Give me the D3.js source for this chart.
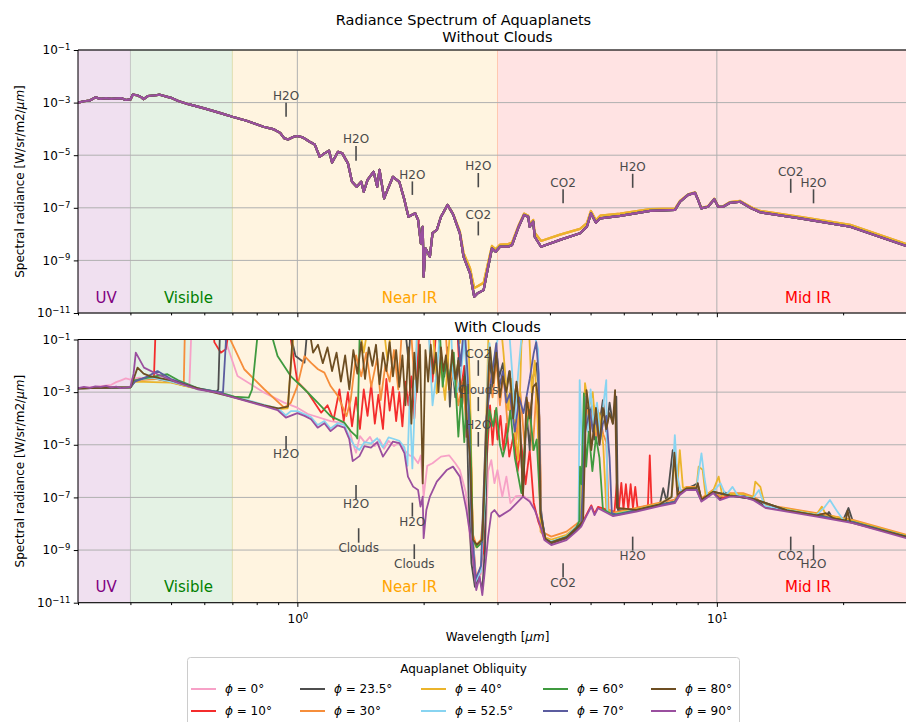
<!DOCTYPE html>
<html>
<head>
<meta charset="utf-8">
<script src="https://cdn.jsdelivr.net/npm/d3@7"></script>
<style>
  body { margin: 0; background: #fff; }
  svg { display: block; font-family: "DejaVu Sans", sans-serif; }
</style>
</head>
<body>
<svg id="chart" width="906" height="722"></svg>
<script>
// ---------------- data ----------------
// Obliquity of each simulated aquaplanet (degrees)
const obliquities = ["0", "10", "23.5", "30", "40", "52.5", "60", "70", "80", "90"];

// Spectral bands [start, end] in micrometres
const bandNames = ["UV", "Visible", "Near IR", "Mid IR"];
const bandEdges = [[0.3, 0.4], [0.4, 0.7], [0.7, 3], [3, 30]];

// Axis ticks
const yTickExponents = [-1, -3, -5, -7, -9, -11];
const xMajorTicks = [1, 10];
const xMinorTicks = [0.3, 0.4, 0.5, 0.6, 0.7, 0.8, 0.9, 2, 3, 4, 5, 6, 7, 8, 9, 20, 30];

// Clear-sky spectra: [wavelength (um), log10 radiance (W/sr/m2/um)]
const clearCold = [[0.30,-3.00],[0.31,-2.95],[0.32,-2.92],[0.33,-2.80],[0.34,-2.86],[0.35,-2.83],[0.36,-2.86],[0.37,-2.84],[0.38,-2.83],[0.39,-2.90],[0.40,-2.88],[0.405,-2.70],[0.415,-2.72],[0.425,-2.80],[0.43,-2.87],[0.44,-2.75],[0.46,-2.72],[0.47,-2.70],[0.50,-2.82],[0.52,-2.94],[0.55,-3.06],[0.60,-3.22],[0.65,-3.38],[0.70,-3.54],[0.76,-3.70],[0.83,-3.92],[0.88,-4.02],[0.91,-4.15],[0.93,-4.35],[0.95,-4.40],[0.98,-4.30],[1.00,-4.27],[1.03,-4.32],[1.07,-4.49],[1.10,-4.59],[1.13,-5.06],[1.16,-4.93],[1.19,-4.83],[1.21,-5.28],[1.25,-4.87],[1.28,-4.93],[1.32,-5.31],[1.35,-6.01],[1.385,-6.20],[1.42,-6.01],[1.44,-6.39],[1.47,-5.94],[1.52,-5.63],[1.55,-6.20],[1.57,-5.56],[1.61,-6.64],[1.64,-6.32],[1.69,-5.82],[1.75,-6.01],[1.80,-6.70],[1.84,-7.34],[1.91,-7.21],[1.94,-7.46],[1.97,-8.35],[1.99,-7.72],[2.00,-9.62],[2.02,-8.54],[2.07,-8.86],[2.10,-7.96],[2.15,-7.84],[2.20,-7.34],[2.28,-6.89],[2.35,-7.24],[2.44,-7.97],[2.49,-8.86],[2.58,-9.49],[2.64,-10.38],[2.69,-10.25],[2.78,-10.13],[2.83,-9.49],[2.91,-8.54],[2.97,-8.67],[3.04,-8.48],[3.18,-8.48],[3.25,-8.41],[3.37,-7.72],[3.47,-7.27],[3.55,-7.34],[3.58,-7.72],[3.65,-7.53],[3.68,-8.10],[3.81,-8.48],[4.23,-8.22],[4.72,-7.97],[4.90,-7.72],[5.01,-7.21],[5.15,-7.57],[5.27,-7.40],[5.88,-7.31],[6.93,-7.12],[7.95,-7.08],[8.17,-6.77],[8.54,-6.51],[8.87,-6.43],[9.02,-6.70],[9.18,-7.02],[9.53,-6.96],[9.86,-6.67],[10.07,-6.96],[10.35,-6.96],[10.75,-6.81],[11.37,-6.77],[12.08,-7.02],[12.68,-7.17],[15.8,-7.40],[20.8,-7.72],[28.3,-8.45],[30.0,-8.55]];
const clearWarm = [[0.30,-3.00],[0.31,-2.95],[0.32,-2.92],[0.33,-2.80],[0.34,-2.86],[0.35,-2.83],[0.36,-2.86],[0.37,-2.84],[0.38,-2.83],[0.39,-2.90],[0.40,-2.88],[0.405,-2.70],[0.415,-2.72],[0.425,-2.80],[0.43,-2.87],[0.44,-2.75],[0.46,-2.72],[0.47,-2.70],[0.50,-2.82],[0.52,-2.94],[0.55,-3.06],[0.60,-3.22],[0.65,-3.38],[0.70,-3.54],[0.76,-3.70],[0.83,-3.92],[0.88,-4.02],[0.91,-4.15],[0.93,-4.35],[0.95,-4.40],[0.98,-4.30],[1.00,-4.27],[1.03,-4.32],[1.07,-4.49],[1.10,-4.59],[1.13,-5.06],[1.16,-4.93],[1.19,-4.83],[1.21,-5.28],[1.25,-4.87],[1.28,-4.93],[1.32,-5.31],[1.35,-6.01],[1.385,-6.20],[1.42,-6.01],[1.44,-6.39],[1.47,-5.94],[1.52,-5.63],[1.55,-6.20],[1.57,-5.56],[1.61,-6.64],[1.64,-6.32],[1.69,-5.82],[1.75,-6.01],[1.80,-6.70],[1.84,-7.34],[1.91,-7.21],[1.94,-7.46],[1.97,-8.35],[1.99,-7.72],[2.00,-9.62],[2.02,-8.54],[2.07,-8.86],[2.10,-7.96],[2.15,-7.84],[2.20,-7.34],[2.28,-6.89],[2.35,-7.22],[2.44,-7.90],[2.49,-8.72],[2.58,-9.30],[2.64,-10.05],[2.69,-9.98],[2.78,-9.85],[2.83,-9.30],[2.91,-8.45],[2.97,-8.58],[3.04,-8.40],[3.18,-8.38],[3.25,-8.32],[3.37,-7.66],[3.47,-7.22],[3.55,-7.30],[3.58,-7.63],[3.65,-7.46],[3.68,-7.95],[3.81,-8.26],[4.23,-8.02],[4.72,-7.80],[4.90,-7.58],[5.01,-7.12],[5.15,-7.47],[5.27,-7.30],[5.88,-7.22],[6.93,-7.05],[7.95,-7.03],[8.17,-6.74],[8.54,-6.49],[8.87,-6.41],[9.02,-6.68],[9.18,-7.00],[9.53,-6.94],[9.86,-6.65],[10.07,-6.94],[10.35,-6.94],[10.75,-6.78],[11.37,-6.74],[12.08,-6.98],[12.68,-7.12],[15.8,-7.34],[20.8,-7.65],[28.3,-8.38],[30.0,-8.48]];
// which clear-sky spectrum each obliquity follows
const clearProfile = ["cold", "cold", "cold", "warm", "warm", "cold", "cold", "cold", "cold", "cold"];

// Cloudy spectra: [wavelength (um), log10 radiance]; values above 1e-1 leave the frame
const cloudy0 = [[0.30,-2.85],[0.33,-2.80],[0.36,-2.72],[0.37,-2.62],[0.38,-2.55],[0.39,-2.48],[0.40,-2.52],[0.42,-2.45],[0.46,-2.50],[0.50,-2.62],[0.54,-2.75],[0.553,-2.72],[0.56,-0.3],[0.65,-0.3],[0.72,-2.39],[0.834,-3.02],[0.93,-3.40],[1.00,-3.59],[1.06,-3.83],[1.20,-4.10],[1.29,-4.18],[1.33,-4.40],[1.355,-4.92],[1.38,-5.30],[1.41,-4.67],[1.45,-4.92],[1.49,-4.70],[1.53,-5.05],[1.57,-4.80],[1.61,-5.15],[1.65,-4.85],[1.70,-5.05],[1.75,-4.90],[1.80,-5.20],[1.85,-5.40],[1.89,-5.45],[1.94,-5.70],[1.97,-5.40],[2.00,-6.97],[2.04,-5.80],[2.10,-5.70],[2.20,-5.45],[2.30,-5.40],[2.38,-5.70],[2.44,-5.96],[2.52,-6.8],[2.58,-8.6],[2.66,-10.3],[2.74,-9.9],[2.80,-9.2],[2.85,-6.0],[2.90,-5.58],[2.95,-6.46],[3.00,-5.96],[3.08,-6.97],[3.15,-6.21],[3.22,-7.22],[3.32,-6.95],[3.45,-6.93],[3.58,-7.12],[3.68,-7.44],[3.78,-7.94],[3.88,-8.58],[4.03,-8.77],[4.38,-8.58],[4.62,-8.26],[4.75,-8.07],[4.88,-7.69],[5.02,-7.31],[5.11,-7.63],[5.21,-7.37],[5.66,-7.67],[6.43,-7.50],[7.31,-7.29],[7.94,-7.18],[8.16,-6.87],[8.46,-6.68],[8.94,-6.68],[9.19,-7.12],[9.80,-6.80],[10.74,-6.93],[12.2,-7.06],[14.7,-7.50],[17.3,-7.69],[21.1,-7.94],[30.0,-8.61]];
const cloudy10 = [[0.30,-2.86],[0.36,-2.82],[0.40,-2.80],[0.41,-2.55],[0.44,-2.45],[0.455,-2.50],[0.46,-0.3],[0.63,-0.3],[0.634,-1.1],[0.657,-1.50],[0.675,-1.37],[0.694,-0.3],[0.95,-0.3],[1.00,-2.6],[1.06,-3.02],[1.14,-3.78],[1.18,-3.5],[1.22,-4.05],[1.26,-2.9],[1.29,-4.1],[1.32,-3.0],[1.35,-4.3],[1.38,-3.2],[1.41,-4.4],[1.44,-2.9],[1.47,-3.9],[1.50,-2.7],[1.53,-4.2],[1.56,-3.1],[1.60,-4.4],[1.63,-2.5],[1.66,-3.7],[1.69,-2.8],[1.72,-4.1],[1.75,-3.0],[1.78,-4.3],[1.81,-2.6],[1.84,-3.5],[1.87,-2.4],[1.90,-4.0],[1.93,-2.2],[1.96,-0.3],[2.05,-0.3],[2.10,-2.6],[2.15,-0.3],[2.40,-0.3],[2.45,-3.0],[2.50,-2.0],[2.53,-4.7],[2.58,-4.0],[2.62,-8.5],[2.67,-10.2],[2.72,-9.9],[2.78,-9.0],[2.83,-5.5],[2.88,-3.5],[2.92,-5.0],[2.96,-3.7],[3.00,-4.8],[3.05,-3.9],[3.10,-5.2],[3.15,-4.2],[3.20,-5.45],[3.28,-4.6],[3.35,-6.0],[3.42,-5.0],[3.50,-6.5],[3.58,-5.2],[3.66,-7.2],[3.75,-7.9],[3.88,-8.55],[4.03,-8.74],[4.38,-8.55],[4.62,-8.24],[4.75,-8.05],[4.88,-7.68],[5.02,-7.30],[5.11,-7.62],[5.21,-7.36],[5.70,-7.55],[5.78,-6.4],[5.84,-7.45],[5.92,-6.45],[5.99,-7.45],[6.07,-6.5],[6.15,-7.45],[6.23,-6.5],[6.31,-7.4],[6.39,-6.6],[6.47,-7.4],[6.85,-7.32],[6.92,-5.4],[6.99,-7.32],[7.31,-7.28],[7.94,-7.17],[8.16,-6.86],[8.46,-6.67],[8.94,-6.67],[9.19,-7.11],[9.44,-6.98],[9.80,-6.79],[10.17,-7.05],[10.74,-6.92],[11.55,-6.92],[12.2,-7.05],[13.1,-7.36],[14.7,-7.49],[17.3,-7.68],[21.1,-7.93],[28.3,-8.50],[30.0,-8.60]];
const cloudy23 = [[0.30,-2.86],[0.40,-2.82],[0.41,-2.55],[0.45,-2.45],[0.50,-2.62],[0.578,-2.87],[0.64,-2.99],[0.648,-2.9],[0.655,-0.3],[0.948,-0.3],[0.99,-1.63],[1.04,-1.88],[1.06,-0.3],[1.80,-0.3],[1.84,-1.8],[1.87,-0.3],[2.15,-0.3],[2.20,-1.6],[2.24,-2.41],[2.28,-1.3],[2.31,-3.55],[2.34,-1.9],[2.38,-3.2],[2.42,-1.7],[2.47,-3.5],[2.52,-2.0],[2.56,-7.0],[2.60,-9.5],[2.65,-10.4],[2.71,-10.0],[2.76,-10.5],[2.80,-9.0],[2.84,-4.0],[2.87,-1.65],[2.92,-2.8],[2.98,-1.40],[3.03,-2.41],[3.09,-1.9],[3.14,-3.0],[3.20,-2.2],[3.26,-3.5],[3.33,-2.7],[3.39,-4.2],[3.45,-6.83],[3.52,-3.8],[3.58,-5.2],[3.64,-2.5],[3.71,-1.9],[3.76,-2.8],[3.81,-7.48],[3.88,-8.55],[4.03,-8.74],[4.38,-8.55],[4.62,-8.24],[4.75,-8.05],[4.85,-4.5],[4.89,-3.17],[4.95,-4.0],[5.03,-3.55],[5.10,-4.8],[5.18,-3.6],[5.26,-4.1],[5.35,-3.3],[5.45,-4.5],[5.55,-3.4],[5.65,-4.2],[5.76,-3.17],[5.81,-7.48],[6.43,-7.48],[7.31,-7.27],[7.45,-6.65],[7.60,-7.18],[7.85,-5.2],[7.98,-5.5],[8.10,-6.88],[8.46,-6.66],[8.80,-6.55],[9.00,-6.46],[9.19,-7.08],[9.44,-6.96],[9.80,-6.78],[10.17,-7.04],[10.4,-6.80],[10.74,-6.91],[11.55,-6.91],[12.2,-7.04],[13.1,-7.35],[14.7,-7.48],[17.3,-7.67],[18.2,-7.72],[18.5,-7.55],[18.9,-7.80],[20.0,-7.86],[20.6,-7.40],[21.1,-7.92],[28.3,-8.49],[30.0,-8.59]];
const cloudy30 = [[0.30,-2.86],[0.40,-2.82],[0.41,-2.55],[0.46,-2.50],[0.50,-2.60],[0.536,-2.75],[0.54,-0.3],[0.66,-0.3],[0.747,-2.13],[0.834,-2.89],[0.93,-3.59],[0.965,-3.40],[1.00,-2.77],[1.04,-1.63],[1.08,-1.9],[1.12,-2.13],[1.16,-2.26],[1.20,-2.77],[1.25,-3.15],[1.31,-3.91],[1.34,-3.3],[1.38,-1.6],[1.42,-2.4],[1.46,-1.5],[1.50,-2.8],[1.55,-1.7],[1.58,-3.3],[1.62,-2.0],[1.66,-2.6],[1.70,-1.4],[1.74,-2.9],[1.78,-0.3],[1.86,-0.3],[1.90,-2.5],[1.95,-0.3],[2.25,-0.3],[2.30,-2.9],[2.36,-1.8],[2.42,-3.5],[2.48,-2.6],[2.53,-4.2],[2.58,-3.5],[2.62,-8.4],[2.67,-8.8],[2.74,-8.6],[2.80,-7.0],[2.85,-2.0],[2.92,-3.2],[2.98,-1.8],[3.04,-3.5],[3.10,-2.3],[3.18,-4.5],[3.25,-2.8],[3.33,-4.8],[3.40,-3.0],[3.48,-5.0],[3.56,-3.4],[3.64,-5.2],[3.72,-2.8],[3.78,-4.0],[3.82,-8.30],[4.03,-8.49],[4.38,-8.30],[4.62,-8.02],[4.75,-7.85],[4.85,-4.0],[4.92,-3.68],[5.00,-4.4],[5.08,-3.5],[5.16,-4.8],[5.26,-3.9],[5.36,-4.6],[5.45,-4.9],[5.52,-7.45],[5.66,-7.58],[6.43,-7.40],[7.31,-7.20],[7.94,-7.08],[8.16,-6.78],[8.46,-6.60],[8.94,-6.60],[9.19,-7.03],[9.44,-6.90],[9.80,-6.71],[10.17,-6.97],[10.74,-6.84],[11.55,-6.84],[12.2,-6.97],[13.1,-7.28],[14.7,-7.41],[17.3,-7.60],[21.1,-7.85],[28.3,-8.42],[30.0,-8.52]];
const cloudy40 = [[0.30,-2.86],[0.40,-2.82],[0.41,-2.6],[0.50,-2.64],[0.578,-2.88],[0.645,-3.0],[0.707,-3.19],[0.834,-3.50],[0.90,-3.64],[0.948,-3.62],[0.984,-0.3],[1.40,-0.3],[1.44,-1.5],[1.48,-0.3],[1.60,-0.3],[1.64,-1.8],[1.68,-0.3],[2.10,-0.3],[2.15,-3.05],[2.20,-2.0],[2.25,-3.3],[2.32,-0.3],[2.42,-0.3],[2.44,-1.14],[2.48,-0.3],[2.55,-0.3],[2.58,-3.0],[2.62,-8.6],[2.67,-8.9],[2.76,-8.7],[2.82,-4.0],[2.86,-0.3],[3.05,-0.3],[3.10,-1.5],[3.18,-3.68],[3.24,-2.5],[3.30,-4.5],[3.36,-5.58],[3.42,-1.2],[3.48,-0.3],[3.56,-0.3],[3.62,-3.0],[3.68,-1.8],[3.74,-4.2],[3.80,-8.3],[3.90,-8.52],[4.03,-8.60],[4.38,-8.42],[4.62,-8.12],[4.74,-7.95],[4.85,-2.66],[4.95,-3.6],[5.06,-3.0],[5.15,-4.5],[5.25,-3.8],[5.36,-5.0],[5.45,-7.4],[5.66,-7.62],[6.43,-7.44],[7.31,-7.23],[7.80,-6.98],[7.94,-5.6],[8.05,-6.6],[8.16,-5.2],[8.30,-6.62],[8.94,-6.63],[9.05,-5.83],[9.25,-5.95],[9.40,-6.92],[9.80,-6.74],[10.1,-6.21],[10.3,-6.92],[10.74,-6.87],[11.55,-6.87],[12.2,-7.00],[12.35,-6.40],[12.7,-6.60],[13.0,-7.28],[14.7,-7.44],[17.3,-7.63],[17.8,-7.35],[18.2,-7.66],[21.1,-7.88],[28.3,-8.45],[30.0,-8.55]];
const cloudy52 = [[0.30,-2.86],[0.40,-2.82],[0.41,-2.55],[0.45,-2.45],[0.50,-2.60],[0.578,-2.86],[0.645,-2.99],[0.707,-3.17],[0.834,-3.48],[0.90,-3.62],[0.939,-3.88],[0.965,-3.72],[1.00,-3.72],[1.078,-3.95],[1.118,-4.25],[1.16,-4.10],[1.20,-4.38],[1.248,-4.18],[1.295,-4.25],[1.33,-4.70],[1.37,-5.05],[1.406,-5.20],[1.445,-4.90],[1.498,-4.95],[1.55,-4.75],[1.60,-5.10],[1.65,-4.72],[1.70,-4.78],[1.75,-4.85],[1.80,-5.1],[1.83,-5.8],[1.853,-3.17],[1.88,-5.9],[1.91,-3.0],[1.93,-0.3],[2.05,-0.3],[2.10,-3.5],[2.15,-2.2],[2.20,-0.3],[2.32,-0.3],[2.35,-2.41],[2.40,-3.0],[2.45,-2.41],[2.50,-1.0],[2.55,-3.0],[2.60,-7.5],[2.66,-10.2],[2.74,-9.8],[2.80,-7.0],[2.84,-2.5],[2.87,-1.14],[2.92,-2.2],[2.98,-1.3],[3.05,-0.3],[3.15,-0.3],[3.21,-1.0],[3.25,-2.2],[3.30,-4.0],[3.36,-2.3],[3.45,-0.3],[3.65,-0.3],[3.70,-1.0],[3.75,-1.4],[3.80,-7.48],[3.90,-8.58],[4.03,-8.68],[4.38,-8.48],[4.60,-8.15],[4.68,-8.0],[4.71,-2.54],[4.74,-3.8],[4.78,-5.58],[4.85,-3.2],[4.92,-4.5],[5.00,-2.9],[5.08,-4.2],[5.18,-3.4],[5.28,-4.8],[5.38,-3.3],[5.45,-2.54],[5.48,-7.55],[5.66,-7.64],[6.43,-7.47],[7.31,-7.26],[7.80,-6.98],[7.94,-4.63],[8.05,-6.2],[8.20,-6.75],[8.94,-6.66],[9.19,-5.33],[9.35,-6.30],[9.50,-6.95],[9.80,-6.78],[10.2,-6.46],[10.5,-6.92],[10.9,-6.60],[11.2,-6.92],[12.2,-7.03],[12.6,-6.72],[13.0,-7.32],[14.7,-7.47],[17.3,-7.66],[18.0,-7.40],[18.6,-7.10],[19.3,-7.50],[20.0,-7.85],[28.3,-8.49],[30.0,-8.59]];
const cloudy60 = [[0.30,-2.86],[0.40,-2.82],[0.41,-2.55],[0.45,-2.42],[0.49,-2.32],[0.52,-2.55],[0.578,-2.85],[0.645,-2.99],[0.707,-3.17],[0.766,-3.21],[0.78,-2.9],[0.81,-0.3],[0.85,-0.3],[0.897,-1.63],[0.965,-2.40],[1.04,-2.89],[1.118,-3.40],[1.20,-3.91],[1.295,-4.16],[1.34,-4.48],[1.38,-4.67],[1.39,-4.76],[1.41,-0.3],[2.18,-0.3],[2.22,-2.79],[2.26,-1.8],[2.30,-2.5],[2.36,-1.5],[2.42,-4.69],[2.46,-3.0],[2.50,-4.9],[2.54,-2.8],[2.58,-4.0],[2.62,-8.6],[2.68,-8.9],[2.76,-8.7],[2.82,-5.0],[2.87,-3.68],[2.93,-4.3],[2.98,-3.6],[3.04,-5.0],[3.09,-5.45],[3.15,-4.9],[3.22,-3.7],[3.30,-5.5],[3.42,-6.84],[3.50,-4.5],[3.58,-3.68],[3.66,-5.2],[3.72,-4.8],[3.80,-7.6],[3.90,-8.57],[4.03,-8.70],[4.38,-8.50],[4.62,-8.15],[4.70,-7.9],[4.72,-5.83],[4.76,-6.5],[4.82,-3.05],[4.88,-5.83],[4.95,-4.5],[5.05,-6.0],[5.15,-4.7],[5.25,-5.5],[5.35,-7.45],[5.66,-7.66],[6.43,-7.48],[7.31,-7.27],[7.94,-7.16],[8.16,-6.86],[8.46,-6.67],[8.94,-6.67],[9.19,-7.11],[9.80,-6.79],[10.74,-6.92],[12.2,-7.05],[14.7,-7.49],[17.3,-7.68],[21.1,-7.93],[30.0,-8.60]];
const cloudy70 = [[0.30,-2.86],[0.40,-2.82],[0.41,-2.60],[0.44,-2.40],[0.464,-2.20],[0.50,-2.50],[0.578,-2.86],[0.645,-2.99],[0.665,-3.0],[0.68,-0.3],[2.40,-0.3],[2.45,-2.0],[2.50,-0.3],[2.55,-2.5],[2.60,-8.0],[2.66,-10.1],[2.74,-9.6],[2.82,-4.0],[2.90,-2.5],[2.98,-1.14],[3.03,-2.8],[3.09,-2.2],[3.15,-3.4],[3.21,-3.05],[3.30,-4.5],[3.38,-3.2],[3.46,-3.8],[3.58,-2.5],[3.66,-1.52],[3.71,-1.1],[3.76,-2.3],[3.80,-7.48],[3.90,-8.58],[4.03,-8.72],[4.38,-8.52],[4.62,-8.18],[4.75,-7.98],[4.85,-4.5],[4.98,-3.68],[5.06,-4.5],[5.15,-4.0],[5.25,-5.0],[5.35,-4.2],[5.45,-3.9],[5.55,-5.5],[5.62,-7.6],[5.80,-7.66],[6.43,-7.49],[7.31,-7.28],[7.94,-7.17],[8.16,-6.87],[8.46,-6.68],[8.94,-6.68],[9.19,-7.12],[9.80,-6.80],[10.74,-6.93],[12.2,-7.06],[14.7,-7.50],[17.3,-7.69],[21.1,-7.94],[30.0,-8.61]];
const cloudy80 = [[0.30,-2.86],[0.40,-2.82],[0.405,-2.6],[0.416,-2.07],[0.43,-2.30],[0.445,-2.39],[0.50,-2.55],[0.55,-2.75],[0.60,-2.92],[0.707,-3.20],[0.834,-3.50],[0.90,-3.62],[0.95,-3.55],[0.98,-0.3],[1.06,-0.3],[1.09,-1.5],[1.12,-1.2],[1.15,-1.9],[1.18,-1.3],[1.21,-2.2],[1.24,-1.5],[1.27,-2.6],[1.30,-1.6],[1.33,-2.9],[1.36,-1.4],[1.39,-2.3],[1.42,-1.1],[1.45,-2.5],[1.48,-1.3],[1.51,-2.0],[1.54,-1.2],[1.57,-2.7],[1.60,-1.5],[1.63,-2.2],[1.66,-1.1],[1.69,-2.4],[1.72,-1.4],[1.75,-2.8],[1.78,-1.6],[1.81,-3.5],[1.84,-1.3],[1.87,-4.2],[1.90,-1.5],[1.93,-3.0],[1.96,-1.2],[1.99,-6.47],[2.02,-1.4],[2.05,-2.6],[2.08,-1.2],[2.11,-2.3],[2.14,-1.5],[2.17,-3.0],[2.20,-1.3],[2.23,-2.2],[2.26,-1.6],[2.30,-2.9],[2.34,-1.4],[2.38,-2.5],[2.42,-1.8],[2.46,-3.2],[2.50,-2.41],[2.54,-4.3],[2.58,-5.5],[2.62,-8.6],[2.68,-8.8],[2.76,-8.6],[2.82,-4.5],[2.86,-2.0],[2.88,-1.3],[2.93,-2.66],[2.98,-1.5],[3.04,-3.2],[3.09,-2.4],[3.15,-3.0],[3.21,-2.2],[3.27,-4.0],[3.33,-2.6],[3.39,-3.8],[3.45,-6.97],[3.52,-3.2],[3.58,-4.0],[3.65,-2.8],[3.71,-2.66],[3.76,-3.5],[3.80,-7.6],[3.90,-8.57],[4.03,-8.72],[4.38,-8.52],[4.62,-8.18],[4.80,-7.9],[4.89,-2.92],[4.95,-3.6],[5.02,-5.2],[5.08,-4.5],[5.15,-3.6],[5.25,-5.0],[5.35,-3.6],[5.45,-4.4],[5.55,-3.8],[5.65,-4.2],[5.72,-2.92],[5.78,-7.4],[6.43,-7.47],[7.31,-7.26],[7.80,-6.98],[7.92,-5.3],[8.05,-6.9],[8.46,-6.66],[8.94,-6.64],[9.00,-6.46],[9.19,-7.08],[9.80,-6.78],[10.74,-6.93],[12.2,-7.05],[14.7,-7.49],[17.3,-7.68],[18.2,-7.60],[19.0,-7.80],[20.3,-7.88],[20.5,-7.50],[20.8,-7.95],[28.3,-8.50],[30.0,-8.60]];
const cloudy90 = [[0.30,-2.85],[0.31,-2.80],[0.32,-2.84],[0.33,-2.78],[0.34,-2.80],[0.35,-2.76],[0.36,-2.82],[0.37,-2.79],[0.38,-2.85],[0.39,-2.83],[0.40,-2.80],[0.407,-2.30],[0.412,-1.50],[0.431,-2.07],[0.464,-2.32],[0.518,-2.64],[0.578,-2.89],[0.645,-3.02],[0.707,-3.21],[0.76,-3.35],[0.834,-3.53],[0.897,-3.68],[0.939,-3.97],[1.00,-3.80],[1.04,-3.90],[1.078,-4.03],[1.118,-4.35],[1.16,-4.18],[1.20,-4.48],[1.248,-4.26],[1.295,-4.35],[1.33,-4.79],[1.355,-5.62],[1.406,-5.43],[1.445,-5.05],[1.498,-5.11],[1.55,-4.90],[1.60,-5.45],[1.69,-4.88],[1.75,-4.94],[1.80,-5.32],[1.835,-6.21],[1.888,-6.59],[1.94,-6.72],[1.966,-7.35],[1.99,-6.97],[2.00,-8.55],[2.03,-7.48],[2.07,-6.97],[2.15,-6.40],[2.27,-5.96],[2.35,-5.83],[2.44,-6.21],[2.53,-7.48],[2.60,-8.74],[2.67,-10.52],[2.72,-10.01],[2.76,-10.71],[2.79,-10.00],[2.85,-8.49],[2.90,-7.60],[2.95,-7.48],[3.03,-7.73],[3.21,-7.48],[3.45,-6.97],[3.58,-7.16],[3.68,-7.48],[3.78,-7.98],[3.88,-8.62],[4.03,-8.81],[4.38,-8.62],[4.62,-8.30],[4.75,-8.11],[4.88,-7.73],[5.02,-7.35],[5.11,-7.67],[5.21,-7.41],[5.66,-7.71],[6.43,-7.54],[7.31,-7.33],[7.94,-7.22],[8.16,-6.91],[8.46,-6.72],[8.94,-6.72],[9.19,-7.16],[9.44,-7.03],[9.80,-6.84],[10.17,-7.10],[10.74,-6.97],[11.55,-6.97],[12.2,-7.10],[13.1,-7.41],[14.7,-7.54],[17.3,-7.73],[21.1,-7.98],[28.3,-8.55],[30.0,-8.65]];
const cloudySeries = [cloudy0, cloudy10, cloudy23, cloudy30, cloudy40, cloudy52, cloudy60, cloudy70, cloudy80, cloudy90];

// Absorption feature markers: label, wavelength, log10 radiance of marker tip and of label
const clearFeatureNames = ["H2O", "H2O", "H2O", "H2O", "CO2", "CO2", "H2O", "CO2", "H2O"];
const clearFeatureWaves = [0.94, 1.38, 1.88, 2.7, 2.7, 4.3, 6.3, 15, 17];
const clearFeatureTip = [-3.54, -5.21, -6.51, -6.22, -8.05, -6.83, -6.24, -6.43, -6.83];
const clearFeatureText = [-2.74, -4.38, -5.73, -5.41, -7.25, -6.03, -5.44, -5.63, -6.03];

const cloudyFeatureNames = ["H2O", "H2O", "H2O", "Clouds", "Clouds", "CO2", "Clouds", "H2O", "CO2", "H2O", "CO2", "H2O"];
const cloudyFeatureWaves = [0.94, 1.38, 1.88, 1.4, 1.9, 2.7, 2.7, 2.7, 4.3, 6.3, 15, 17];
const cloudyFeatureTip = [-4.67, -6.53, -7.20, -8.17, -8.78, -2.38, -3.72, -5.07, -9.50, -8.49, -8.49, -8.81];
const cloudyFeatureText = [-5.35, -7.25, -7.92, -8.91, -9.53, -1.52, -2.92, -4.25, -10.23, -9.21, -9.21, -9.53];

// ---------------- styling ----------------
const seriesColors = ["#f7a1c7", "#f42c2c", "#4e4e4e", "#f68e3b", "#ebb42b", "#88d4f1", "#3f9a3f", "#5b5c9f", "#6d4e22", "#9a4f9f"];
const bandColors = ["#800080", "#008000", "#ffa500", "#ff0000"];
const bandAlpha = [0.12, 0.105, 0.12, 0.11];
const featureColor = "#4a4a4a";

const svg = d3.select("#chart");
const plotLeft = 78, plotRight = 917;
const x = d3.scaleLog().domain([0.3, 30]).range([plotLeft, plotRight]);

const panels = [
  { name: "clear", top: 50, bottom: 313, title: "Without Clouds", titleY: 42 },
  { name: "cloudy", top: 339.5, bottom: 602.7, title: "With Clouds", titleY: 332 }
];

svg.append("text").attr("x", 463.5).attr("y", 25).attr("text-anchor", "middle")
  .attr("font-size", 14.5).attr("fill", "#000").text("Radiance Spectrum of Aquaplanets");

const defs = svg.append("defs");

panels.forEach((p, pi) => {
  const y = d3.scaleLog().domain([1e-11, 1e-1]).range([p.bottom, p.top]);
  const g = svg.append("g");

  defs.append("clipPath").attr("id", "clip-" + p.name)
    .append("rect").attr("x", plotLeft).attr("y", p.top)
    .attr("width", plotRight - plotLeft).attr("height", p.bottom - p.top);

  // spectral bands
  bandEdges.forEach((b, i) => {
    g.append("rect")
      .attr("x", x(b[0])).attr("width", x(b[1]) - x(b[0]))
      .attr("y", p.top).attr("height", p.bottom - p.top)
      .attr("fill", bandColors[i]).attr("fill-opacity", bandAlpha[i])
      .attr("stroke", bandColors[i]).attr("stroke-opacity", bandAlpha[i]).attr("stroke-width", 1);
  });

  // grid
  yTickExponents.forEach(e => {
    g.append("line").attr("x1", plotLeft).attr("x2", plotRight)
      .attr("y1", y(Math.pow(10, e))).attr("y2", y(Math.pow(10, e)))
      .attr("stroke", "#b0b0b0").attr("stroke-width", 1);
  });
  xMajorTicks.forEach(v => {
    g.append("line").attr("x1", x(v)).attr("x2", x(v))
      .attr("y1", p.top).attr("y2", p.bottom)
      .attr("stroke", "#b0b0b0").attr("stroke-width", 1);
  });

  // band labels at the arithmetic centre of each band
  bandEdges.forEach((b, i) => {
    g.append("text").attr("x", x((b[0] + b[1]) / 2)).attr("y", y(4e-11) + 5.5)
      .attr("text-anchor", "middle").attr("font-size", 15)
      .attr("fill", bandColors[i] === "#ff0000" ? "#ff0000" : bandColors[i])
      .text(bandNames[i]);
  });

  // spectra
  const line = d3.line().x(d => x(d[0])).y(d => y(Math.pow(10, d[1])));
  const lines = g.append("g").attr("clip-path", "url(#clip-" + p.name + ")");
  obliquities.forEach((o, i) => {
    const data = p.name === "clear"
      ? (clearProfile[i] === "warm" ? clearWarm : clearCold)
      : cloudySeries[i];
    lines.append("path").datum(data).attr("d", line)
      .attr("fill", "none").attr("stroke", seriesColors[i])
      .attr("stroke-width", p.name === "clear" ? 2.2 : 1.8)
      .attr("stroke-linejoin", "round");
  });

  // feature markers
  const names = p.name === "clear" ? clearFeatureNames : cloudyFeatureNames;
  const waves = p.name === "clear" ? clearFeatureWaves : cloudyFeatureWaves;
  const tips = p.name === "clear" ? clearFeatureTip : cloudyFeatureTip;
  const texts = p.name === "clear" ? clearFeatureText : cloudyFeatureText;
  names.forEach((n, i) => {
    const xp = x(waves[i]);
    const ty = y(Math.pow(10, tips[i]));
    const ly = y(Math.pow(10, texts[i]));
    const end = ly < ty ? ly + 7 : ly - 5;
    g.append("line").attr("x1", xp).attr("x2", xp).attr("y1", ty).attr("y2", end)
      .attr("stroke", featureColor).attr("stroke-width", 1.6);
    g.append("text").attr("x", xp).attr("y", ly + 4.4).attr("text-anchor", "middle")
      .attr("font-size", 12).attr("fill", featureColor).text(n);
  });

  // frame
  g.append("line").attr("x1", plotLeft).attr("x2", plotLeft).attr("y1", p.top).attr("y2", p.bottom)
    .attr("stroke", "#000").attr("stroke-width", 1);
  g.append("line").attr("x1", plotLeft).attr("x2", plotRight).attr("y1", p.top).attr("y2", p.top)
    .attr("stroke", "#000").attr("stroke-width", 1);

  // y axis
  const yAxis = d3.axisLeft(y).tickValues(yTickExponents.map(e => Math.pow(10, e)))
    .tickSize(4.2).tickPadding(3.5).tickFormat(() => "");
  const ya = g.append("g").attr("transform", `translate(${plotLeft},0)`).call(yAxis);
  ya.select(".domain").remove();
  ya.selectAll(".tick line").attr("stroke", "#000");
  ya.selectAll(".tick text").each(function(d) {
    const t = d3.select(this).attr("font-size", 12).attr("fill", "#000")
      .attr("font-family", "DejaVu Sans, sans-serif");
    t.append("tspan").text("10");
    t.append("tspan").attr("dy", "-0.5em").attr("font-size", 8.5)
      .text("\u2212" + Math.abs(Math.round(Math.log10(d))));
  });

  // x axis (minor + major)
  const xMinor = d3.axisBottom(x).tickValues(xMinorTicks).tickSize(2.4).tickFormat(() => "");
  const xm = g.append("g").attr("transform", `translate(0,${p.bottom})`).call(xMinor);
  xm.select(".domain").attr("d", `M${plotLeft},0H${plotRight}`).attr("stroke", "#000");
  xm.selectAll(".tick line").attr("stroke", "#000");
  const xMajor = d3.axisBottom(x).tickValues(xMajorTicks).tickSize(4.2).tickPadding(4)
    .tickFormat(() => "");
  const xM = g.append("g").attr("transform", `translate(0,${p.bottom})`).call(xMajor);
  xM.select(".domain").remove();
  xM.selectAll(".tick line").attr("stroke", "#000");
  if (pi === 1) {
    xM.selectAll(".tick text").each(function(d) {
      const t = d3.select(this).attr("font-size", 12).attr("fill", "#000")
        .attr("font-family", "DejaVu Sans, sans-serif").attr("dy", "1.05em");
      t.append("tspan").text("10");
      t.append("tspan").attr("dy", "-0.5em").attr("font-size", 8.5)
        .text(String(Math.round(Math.log10(d))));
    });
  }

  // titles and axis labels
  svg.append("text").attr("x", (plotLeft + plotRight) / 2).attr("y", p.titleY)
    .attr("text-anchor", "middle").attr("font-size", 14.5).attr("fill", "#000").text(p.title);

  const yl = svg.append("text")
    .attr("transform", `translate(23.5,${(p.top + p.bottom) / 2}) rotate(-90)`)
    .attr("text-anchor", "middle").attr("font-size", 12).attr("fill", "#000");
  yl.append("tspan").text("Spectral radiance [W/sr/m2/");
  yl.append("tspan").attr("font-style", "italic").text("\u03bcm");
  yl.append("tspan").text("]");
});

// x axis label
const xl = svg.append("text").attr("x", (plotLeft + plotRight) / 2).attr("y", 641)
  .attr("text-anchor", "middle").attr("font-size", 12).attr("fill", "#000");
xl.append("tspan").text("Wavelength [");
xl.append("tspan").attr("font-style", "italic").text("\u03bcm");
xl.append("tspan").text("]");

// legend
const lg = svg.append("g");
lg.append("rect").attr("x", 187.5).attr("y", 657.5).attr("width", 552).attr("height", 80)
  .attr("rx", 3).attr("fill", "#fff").attr("fill-opacity", 0.8)
  .attr("stroke", "#cccccc").attr("stroke-width", 1);
lg.append("text").attr("x", 463.5).attr("y", 672.5).attr("text-anchor", "middle")
  .attr("font-size", 12).attr("fill", "#000").text("Aquaplanet Obliquity");
const legendCols = [191, 300, 421, 543, 651];
const legendRows = [689, 711];
obliquities.forEach((o, i) => {
  const cx = legendCols[Math.floor(i / 2)];
  const cy = legendRows[i % 2];
  lg.append("line").attr("x1", cx).attr("x2", cx + 25).attr("y1", cy).attr("y2", cy)
    .attr("stroke", seriesColors[i]).attr("stroke-width", 2);
  const t = lg.append("text").attr("x", cx + 34).attr("y", cy + 4.4)
    .attr("font-size", 12).attr("fill", "#000");
  t.append("tspan").attr("font-style", "italic").text("\u03d5");
  t.append("tspan").text(" = " + o + "\u00b0");
});
</script>
</body>
</html>
